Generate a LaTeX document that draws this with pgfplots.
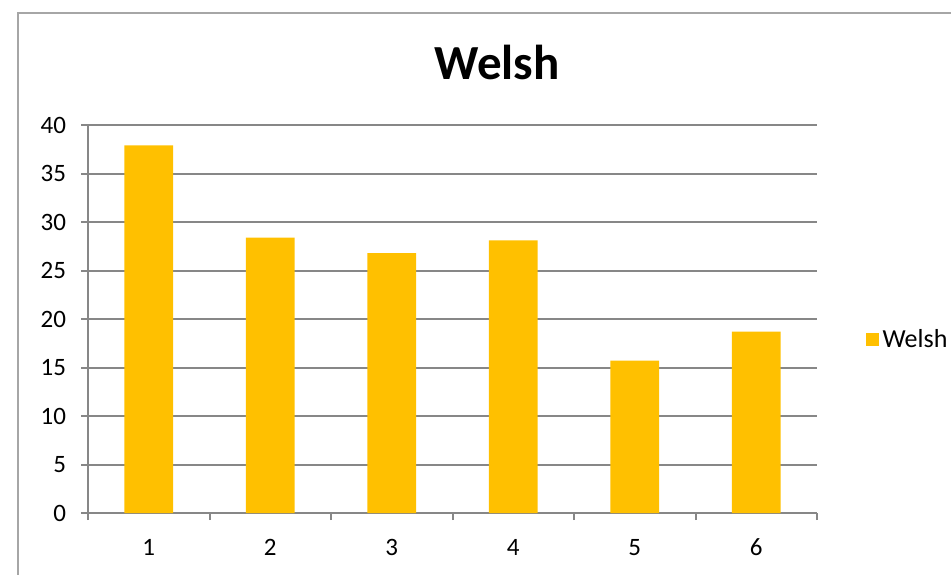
\documentclass[border=0pt]{standalone}
\usepackage{pgfplots}
\pgfplotsset{compat=1.18}
\usepackage{fontspec}
\setmainfont{Carlito}
\definecolor{barc}{HTML}{FFC000}
\definecolor{gridc}{HTML}{878787}
\definecolor{framec}{HTML}{A6A6A6}
\begin{document}
\begin{tikzpicture}
\useasboundingbox (0,0) rectangle (475.5pt,287pt);
\draw[framec, line width=0.8pt] (9pt,-20pt) rectangle (500pt,280.5pt);
\begin{axis}[
  at={(44pt,30.5pt)}, anchor=south west,
  scale only axis, width=364.5pt, height=194pt,
  xmin=0.5, xmax=6.5, ymin=0, ymax=40,
  ybar, bar width=0.4,
  xtick={1,2,3,4,5,6},
  minor xtick={0.5,1.5,2.5,3.5,4.5,5.5,6.5},
  major x tick style={draw=none},
  minor tick length=3.5pt,
  ytick={0,5,10,15,20,25,30,35,40},
  major tick length=3.5pt,
  tick align=outside,
  ymajorgrids,
  grid style={gridc, line width=1pt},
  axis line style={gridc, line width=1pt},
  tick style={gridc, line width=1pt},
  axis x line*=bottom, axis y line*=left,
  separate axis lines,
  every tick label/.append style={font=\fontsize{12.5}{14}\selectfont},
  /pgf/number format/assume math mode=true,
  yticklabel style={xshift=-4pt},
  xticklabel style={yshift=-6pt},
  title={\fontsize{24.5}{28}\selectfont\bfseries Welsh},
  title style={at={(0.561,1)}, anchor=center, yshift=25.5pt},
  legend style={at={(1.066,0.447)}, anchor=west, draw=none, fill=none,
    font=\fontsize{13}{15}\selectfont, inner sep=0pt,
    legend cell align=left},
  legend image code/.code={\fill[barc] (0pt,-3.25pt) rectangle (6.5pt,3.25pt);},
]
\addplot[fill=barc, draw=none] coordinates {(1,37.9) (2,28.4) (3,26.8) (4,28.1) (5,15.7) (6,18.7)};
\legend{Welsh}
\end{axis}
\end{tikzpicture}
\end{document}
